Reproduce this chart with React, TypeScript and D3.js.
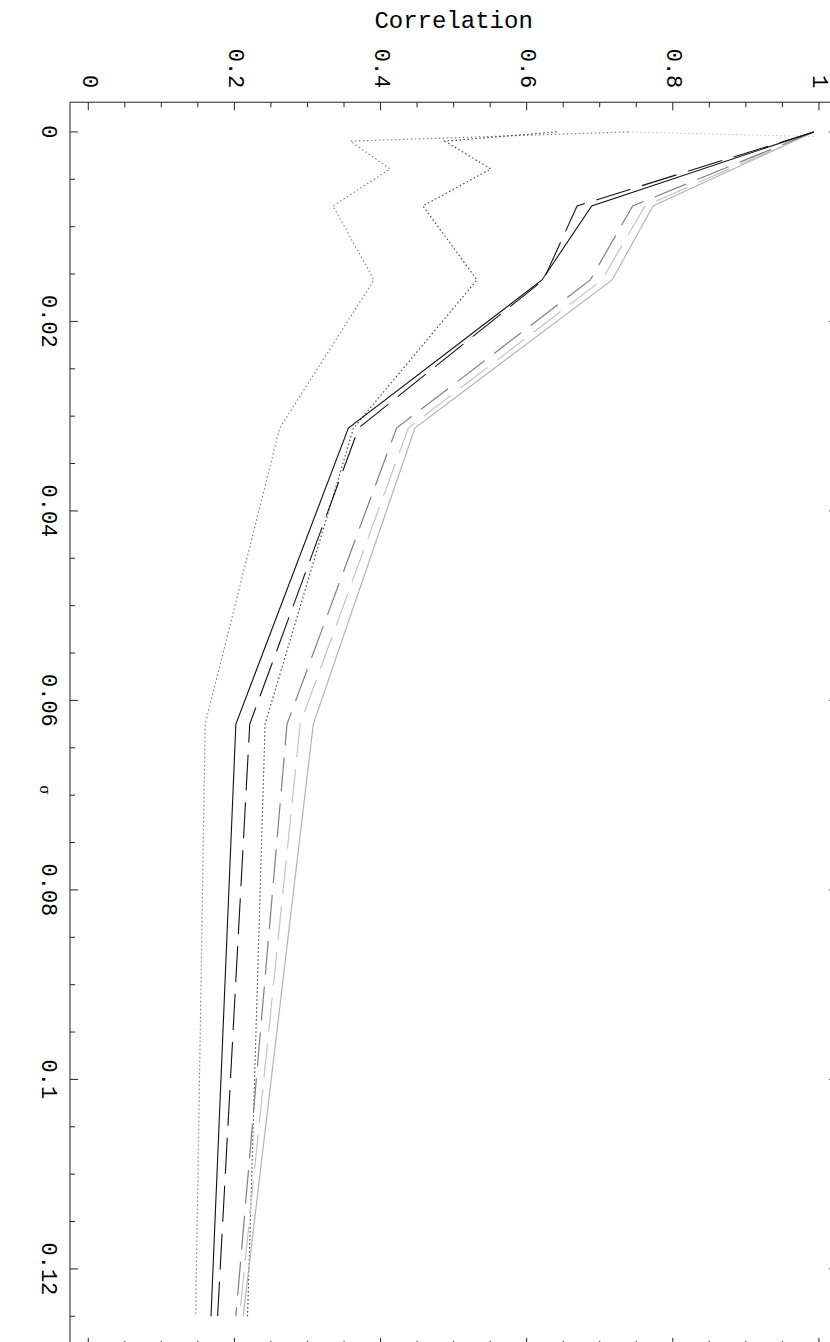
import React from "react";
import * as d3 from "d3";

// sigma sample positions
const sigmaCoarse = [0, 0.0078125, 0.015625, 0.03125, 0.0625, 0.125];
const sigmaFine = [0, 0.0009765625, 0.00390625, 0.0078125, 0.015625, 0.03125, 0.0625, 0.125];
const sigmaStart = [0, 0.00048828125];

// correlation values per series
const blackSolid = [0.993, 0.689, 0.621, 0.356, 0.202, 0.168];
const blackDashed = [0.993, 0.669, 0.623, 0.37, 0.221, 0.177];
const grayDashed = [0.993, 0.745, 0.687, 0.422, 0.272, 0.202];
const lightDashed = [0.993, 0.762, 0.703, 0.438, 0.29, 0.207];
const lightSolid = [0.993, 0.773, 0.717, 0.447, 0.308, 0.212];
const darkDotted = [0.641, 0.488, 0.551, 0.458, 0.532, 0.363, 0.242, 0.218];
const grayDotted = [0.739, 0.359, 0.413, 0.335, 0.391, 0.262, 0.16, 0.147];
const lightDotted = [0.739, 0.993];

const corrTicks = [0, 0.2, 0.4, 0.6, 0.8, 1];
const sigmaTicks = [0, 0.02, 0.04, 0.06, 0.08, 0.1, 0.12];

const FONT = "'Liberation Mono', 'DejaVu Sans Mono', monospace";

export default function App() {
  const left = 70;
  const top = 102.3;
  const W = 767.2; // correlation span (screen horizontal)
  const H = 1243.6; // sigma span (screen vertical)

  // original (unrotated) frame: x = sigma, y = correlation (up)
  const x = d3.scaleLinear().domain([-0.003125, 0.128125]).range([0, H]);
  const y = d3.scaleLinear().domain([-0.025, 1.025]).range([W, 0]);

  const line = d3
    .line<[number, number]>()
    .x((d) => x(d[0]))
    .y((d) => y(d[1]));

  const series = [
    { s: sigmaStart, v: lightDotted, color: "#c8c8c8", dash: "1.5,2.5", w: 1.1 },
    { s: sigmaFine, v: grayDotted, color: "#7a7a7a", dash: "1.5,2.5", w: 1.1 },
    { s: sigmaFine, v: darkDotted, color: "#3a3a3a", dash: "1.5,2.5", w: 1.1 },
    { s: sigmaCoarse, v: lightSolid, color: "#b4b4b4", dash: null, w: 1.2 },
    { s: sigmaCoarse, v: lightDashed, color: "#c4c4c4", dash: "34,12", w: 1.2 },
    { s: sigmaCoarse, v: grayDashed, color: "#808080", dash: "34,12", w: 1.2 },
    { s: sigmaCoarse, v: blackDashed, color: "#111", dash: "36,12", w: 1.1 },
    { s: sigmaCoarse, v: blackSolid, color: "#111", dash: null, w: 1.1 },
  ];

  const sigmaMinor = d3.range(0, 26).map((i) => i * 0.005);
  const corrMinor = d3.range(0, 21).map((i) => i * 0.05);
  const isMajorS = (v: number) => Math.abs(v / 0.02 - Math.round(v / 0.02)) < 1e-6;
  const isMajorC = (v: number) => Math.abs(v / 0.2 - Math.round(v / 0.2)) < 1e-6;

  const axisColor = "#555";

  return (
    <svg width={830} height={1342} style={{ display: "block", position: "absolute", left: 0, top: 0 }}>
      <rect x={0} y={0} width={830} height={1342} fill="#fff" />
      <g transform={`translate(${left + W},${top}) rotate(90)`}>
        {/* frame */}
        <rect x={0} y={0} width={H} height={W} fill="none" stroke={axisColor} strokeWidth={1.3} />
        {/* sigma ticks, bottom & top */}
        {sigmaMinor.map((v, i) => {
          const len = isMajorS(v) ? 8 : 5;
          return (
            <g key={"s" + i}>
              <line x1={x(v)} x2={x(v)} y1={W} y2={W - len} stroke="#222" strokeWidth={1} />
              <line x1={x(v)} x2={x(v)} y1={0} y2={len} stroke="#222" strokeWidth={1} />
            </g>
          );
        })}
        {/* correlation ticks, left & right */}
        {corrMinor.map((v, i) => {
          const len = isMajorC(v) ? 8 : 5;
          return (
            <g key={"c" + i}>
              <line x1={0} x2={len} y1={y(v)} y2={y(v)} stroke="#222" strokeWidth={1} />
              <line x1={H} x2={H - len} y1={y(v)} y2={y(v)} stroke="#222" strokeWidth={1} />
            </g>
          );
        })}
        {/* tick labels */}
        {sigmaTicks.map((v) => (
          <text
            key={"sl" + v}
            x={x(v)}
            y={W + 14}
            textAnchor="middle"
            dominantBaseline="hanging"
            fontFamily={FONT}
            fontSize={22}
            fill="#000"
          >
            {String(v)}
          </text>
        ))}
        {corrTicks.map((v) => (
          <text
            key={"cl" + v}
            x={-14}
            y={y(v)}
            textAnchor="end"
            dominantBaseline="central"
            fontFamily={FONT}
            fontSize={22}
            fill="#000"
          >
            {String(v)}
          </text>
        ))}
        <text
          x={790 - top}
          y={left + W - 45}
          textAnchor="middle"
          dominantBaseline="central"
          fontFamily="'DejaVu Serif', serif"
          fontSize={14}
          fill="#000"
        >
          σ
        </text>
        {/* series */}
        {series.map((sr, i) => (
          <path
            key={"p" + i}
            d={line(sr.s.map((s, j) => [s, sr.v[j]] as [number, number])) || ""}
            fill="none"
            stroke={sr.color}
            strokeWidth={sr.w}
            strokeDasharray={sr.dash || undefined}
          />
        ))}
      </g>
      <text
        x={left + W / 2}
        y={28}
        textAnchor="middle"
        fontFamily={FONT}
        fontSize={24}
        fill="#000"
      >
        Correlation
      </text>
    </svg>
  );
}
